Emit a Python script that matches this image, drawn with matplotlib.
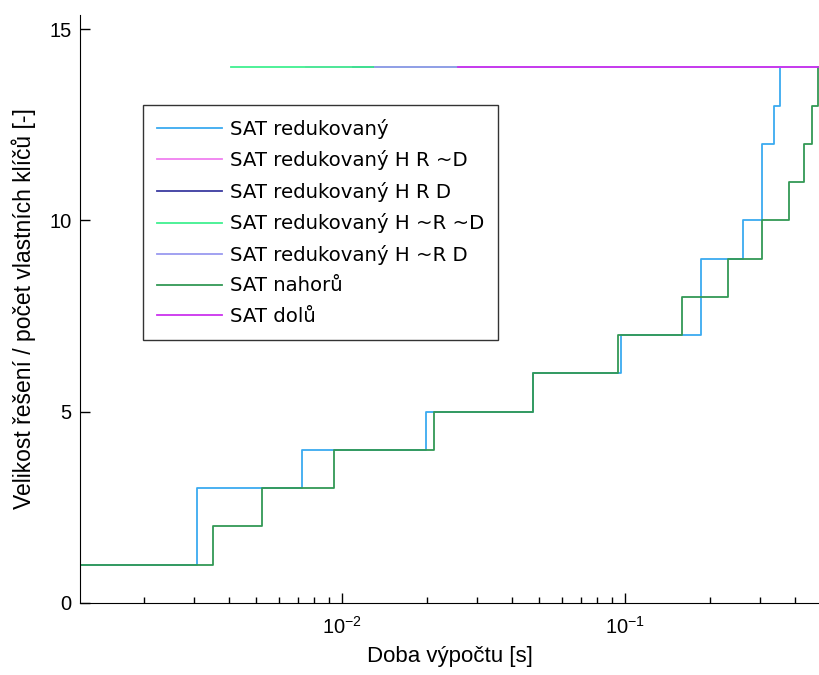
import matplotlib
matplotlib.use("Agg")
import matplotlib.pyplot as plt
from matplotlib.ticker import LogLocator, NullFormatter, FixedLocator

plt.rcParams['font.family'] = ['Liberation Sans', 'DejaVu Sans']

# Data
red_t = [0.001, 0.00309, 0.00725, 0.0199, 0.0475, 0.0972, 0.186, 0.262, 0.306, 0.337, 0.354]
red_y = [1, 3, 4, 5, 6, 7, 9, 10, 12, 13, 14]

up_t = [0.001, 0.00351, 0.00524, 0.00941, 0.0212, 0.0475, 0.0948, 0.159, 0.232, 0.306, 0.380, 0.430, 0.460, 0.481]
up_y = [1, 2, 3, 4, 5, 6, 7, 8, 9, 10, 11, 12, 13, 14]

t_end = 0.4867
hrnd_t = [0.0075, t_end]
hrnd_y = [14, 14]
hrd_t = [0.011, t_end]
hrd_y = [14, 14]
hnrnd_t = [0.00407, t_end]
hnrnd_y = [14, 14]
hnrd_t = [0.0131, t_end]
hnrd_y = [14, 14]
down_t = [0.0258, t_end]
down_y = [14, 14]

labels = ["SAT redukovaný", "SAT redukovaný H R ~D", "SAT redukovaný H R D",
          "SAT redukovaný H ~R ~D", "SAT redukovaný H ~R D", "SAT nahorů", "SAT dolů"]
colors = ["#3aaaf0", "#f080f0", "#3a3aa0", "#40f090", "#9a9af0", "#339955", "#cc33ee"]

fig = plt.figure(figsize=(8.19, 6.75), dpi=100)
ax = fig.add_axes([80/819, 1-603/675, 1-80/819, (603-15)/675])

series = [(red_t, red_y), (hrnd_t, hrnd_y), (hrd_t, hrd_y), (hnrnd_t, hnrnd_y),
          (hnrd_t, hnrd_y), (up_t, up_y), (down_t, down_y)]
for (t, y), c, lab in zip(series, colors, labels):
    ax.plot(t, y, drawstyle='steps-post', color=c, lw=1.3, label=lab)

ax.set_xscale('log')
ax.set_xlim(0.00119, t_end)
ax.set_ylim(0, 15.37)
ax.set_yticks([0, 5, 10, 15])
ax.xaxis.set_major_locator(FixedLocator([0.01, 0.1]))
ax.xaxis.set_minor_locator(LogLocator(base=10, subs=range(2, 10)))
ax.xaxis.set_minor_formatter(NullFormatter())
ax.set_xticklabels([r'$\mathregular{10^{-2}}$', r'$\mathregular{10^{-1}}$'])

ax.spines['top'].set_visible(False)
ax.spines['right'].set_visible(False)
ax.tick_params(direction='in', labelsize=14.5, length=7, width=1)
ax.tick_params(axis='y', pad=6)
ax.tick_params(axis='x', pad=9)
ax.tick_params(which='minor', direction='in', length=4, width=1)

ax.set_xlabel("Doba výpočtu [s]", fontsize=16, labelpad=6)
ax.set_ylabel("Velikost řešení / počet vlastních klíčů [-]", fontsize=16.5, labelpad=10)

leg = ax.legend(loc='upper left', bbox_to_anchor=((143-80)/739, 1-(105-15)/588),
                borderaxespad=0, frameon=True, fancybox=False, edgecolor='black',
                handlelength=3.3, borderpad=0.7, labelspacing=0.585, handletextpad=0.4,
                prop={'family': 'DejaVu Sans', 'size': 14.2})
leg.get_frame().set_linewidth(1.0)

fig.savefig("out.png", dpi=100)
